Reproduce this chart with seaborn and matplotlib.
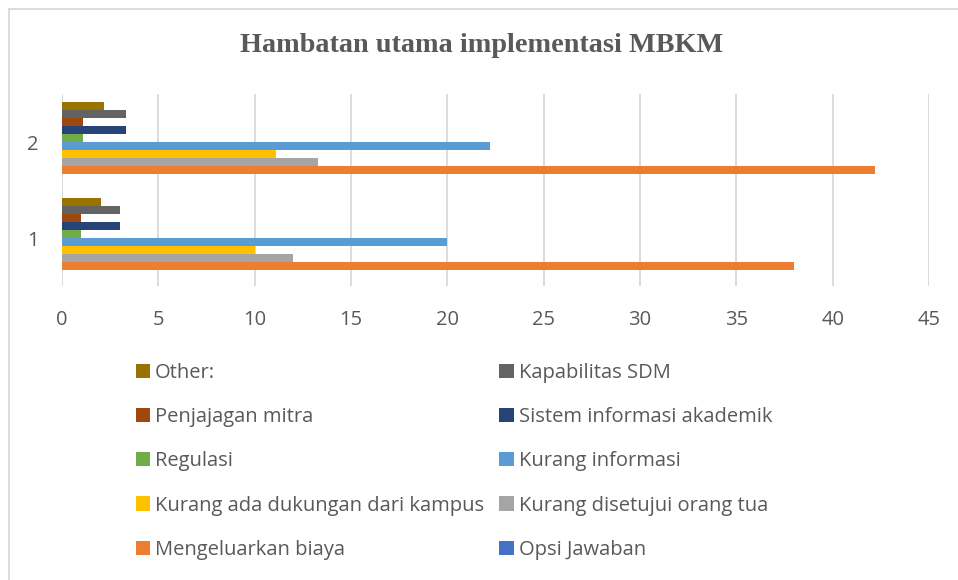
import pandas as pd
import matplotlib
matplotlib.use("Agg")
import matplotlib.pyplot as plt
import seaborn as sns
from matplotlib.lines import Line2D
from matplotlib.patches import Patch

# Data
groups = ["2", "1"]
series = ["Other:", "Kapabilitas SDM", "Penjajagan mitra", "Sistem informasi akademik",
          "Regulasi", "Kurang informasi", "Kurang ada dukungan dari kampus",
          "Kurang disetujui orang tua", "Mengeluarkan biaya", "Opsi Jawaban"]
values_1 = [2, 3, 1, 3, 1, 20, 10, 12, 38, 0]
values_2 = [2.2, 3.3, 1.1, 3.3, 1.1, 22.2, 11.1, 13.3, 42.2, 0]
colors = ["#997300", "#636363", "#9E480E", "#264478", "#70AD47",
          "#5B9BD5", "#FFC000", "#A5A5A5", "#ED7D31", "#4472C4"]
xticks = [0, 5, 10, 15, 20, 25, 30, 35, 40, 45]

rows = []
for s, v1, v2 in zip(series, values_1, values_2):
    rows.append({"grp": "1", "series": s, "value": v1})
    rows.append({"grp": "2", "series": s, "value": v2})
df = pd.DataFrame(rows)

sns.set_style("white")
plt.rcParams['font.family'] = ['Open Sans', 'DejaVu Sans']
text_col = "#595959"

fig = plt.figure(figsize=(9.58, 5.8), dpi=100)
ax = fig.add_axes([62/958, 1 - 286/580, 867/958, 192/580])

sns.barplot(data=df, x="value", y="grp", hue="series",
            order=groups, hue_order=series, palette=colors, orient="h",
            width=0.835, gap=0, saturation=1, ax=ax, legend=False,
            edgecolor="none", linewidth=0)

ax.set_xlim(0, 45)
ax.set_ylim(1.5, -0.5)
ax.set_xticks(xticks)
ax.grid(axis="x", color="#D9D9D9", linewidth=1.3)
ax.set_axisbelow(True)
for sp in ax.spines.values():
    sp.set_visible(False)
ax.tick_params(axis="both", length=0, labelsize=14.5, colors=text_col)
ax.tick_params(axis="x", pad=17)
ax.tick_params(axis="y", pad=17)
ax.set_xlabel("")
ax.set_ylabel("")

fig.text(0.503, 1 - 46/580, "Hambatan utama implementasi MBKM", ha="center", va="center",
         fontsize=20.3, fontweight="bold", color=text_col, family="Liberation Serif")

# legend: row-major order across two columns
col_order = [0, 2, 4, 6, 8, 1, 3, 5, 7, 9]
handles = [Patch(facecolor=colors[i], edgecolor="none", label=series[i]) for i in col_order]
fig.legend(handles=handles, ncol=2, loc="upper left", bbox_to_anchor=(128/958, 1 - 355/580),
           frameon=False, fontsize=14.5, labelcolor=text_col, handlelength=0.7,
           handleheight=0.7, handletextpad=0.25, columnspacing=0.75, labelspacing=1.2,
           borderaxespad=0)

# chart area border
fig.add_artist(Line2D([9/958, 1], [1 - 9/580, 1 - 9/580], color="#D9D9D9", linewidth=1.3))
fig.add_artist(Line2D([9/958, 9/958], [0, 1 - 9/580], color="#D9D9D9", linewidth=1.3))

fig.savefig("out.png", dpi=100)
